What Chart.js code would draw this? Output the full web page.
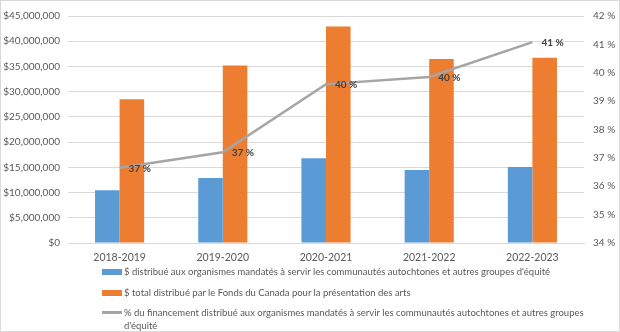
<!DOCTYPE html>
<html>
<head>
<meta charset="utf-8">
<script src="https://cdn.jsdelivr.net/npm/chart.js@4"></script>
<style>
  body { margin: 0; background: #fff; }
  #wrap { position: relative; width: 618px; height: 330px; border: 1px solid #d9d9d9; }
  #legende { position: absolute; left: 101px; top: 264px; font-family: Lato, sans-serif; font-size: 9.5px; color: #595959; }
  .item { display: flex; align-items: flex-start; margin-bottom: 7.5px; line-height: 13px; }
  .swatch { width: 20px; height: 6px; margin-top: 4px; margin-right: 2px; flex: none; }
  .swatch.ligne { height: 3px; margin-top: 5px; }
  .txt { width: 475px; }
</style>
</head>
<body>
<div id="wrap">
  <canvas id="graph" width="618" height="330"></canvas>
  <div id="legende"></div>
</div>
<script>
// données
let annees = ["2018-2019", "2019-2020", "2020-2021", "2021-2022", "2022-2023"]
let montant_equite = [10450000, 12900000, 16800000, 14450000, 15050000]
let montant_total = [28500000, 35200000, 42900000, 36500000, 36700000]
let pourcentage = [36.65, 37.2, 39.6, 39.85, 41.08]

let label_equite = "$ distribué aux organismes mandatés à servir les communautés autochtones et autres groupes d'équité"
let label_total = "$ total distribué par le Fonds du Canada pour la présentation des arts"
let label_pct = "% du financement distribué aux organismes mandatés à servir les communautés autochtones et autres groupes d'équité"

let gris_texte = "#595959"
let police = "Lato, sans-serif"

/** étiquettes du pourcentage à droite des points */
let etiquettes = {
  id: "etiquettes",
  afterDatasetsDraw: function(chart) {
    let ctx = chart.ctx
    let meta = chart.getDatasetMeta(2)
    ctx.save()
    ctx.fillStyle = "#404040"
    ctx.font = "bold 10px " + police
    ctx.textAlign = "left"
    ctx.textBaseline = "middle"
    meta.data.forEach(function(pt, i) {
      ctx.fillText(Math.round(pourcentage[i]) + " %", pt.x + 9, pt.y + 1)
    })
    ctx.restore()
  }
}

let ctx = document.getElementById("graph").getContext("2d")
let chart = new Chart(ctx, {
  type: "bar",
  data: {
    labels: annees,
    datasets: [{
      label: label_equite,
      data: montant_equite,
      backgroundColor: "#5b9bd5",
      yAxisID: "y",
      order: 1,
      categoryPercentage: 0.476,
      barPercentage: 1
    }, {
      label: label_total,
      data: montant_total,
      backgroundColor: "#ed7d31",
      yAxisID: "y",
      order: 1,
      categoryPercentage: 0.476,
      barPercentage: 1
    }, {
      type: "line",
      label: label_pct,
      data: pourcentage,
      borderColor: "#a5a5a5",
      borderWidth: 2.5,
      pointRadius: 0,
      tension: 0,
      yAxisID: "y1",
      order: 0
    }]
  },
  options: {
    responsive: false,
    animation: false,
    layout: { padding: { top: 9, left: 0, right: 0, bottom: 0 } },
    plugins: { legend: { display: false }, tooltip: { enabled: false } },
    scales: {
      x: {
        grid: { display: false, drawTicks: false },
        border: { color: "#d9d9d9" },
        ticks: { color: gris_texte, font: { family: police, size: 10.5 }, padding: 8 },
        afterFit: function(axis) { axis.height = 88 }
      },
      y: {
        position: "left",
        min: 0, max: 45000000,
        ticks: {
          stepSize: 5000000, color: gris_texte, padding: 8,
          font: { family: police, size: 10 },
          callback: function(v) { return "$" + v.toLocaleString("en-US") }
        },
        grid: { color: "#d9d9d9", drawTicks: false },
        border: { display: false },
        afterFit: function(axis) { axis.width = 67 }
      },
      y1: {
        position: "right",
        min: 34, max: 42,
        ticks: {
          stepSize: 1, color: gris_texte, padding: 9,
          font: { family: police, size: 10 },
          callback: function(v) { return v + " %" }
        },
        grid: { display: false, drawTicks: false },
        border: { display: false },
        afterFit: function(axis) { axis.width = 35 }
      }
    }
  },
  plugins: [etiquettes]
})

/** légende en bas, un élément par ligne */
let legende = document.getElementById("legende")
chart.data.datasets.forEach(function(ds) {
  let item = document.createElement("div")
  item.className = "item"
  let sw = document.createElement("span")
  sw.className = ds.type === "line" ? "swatch ligne" : "swatch"
  sw.style.background = ds.type === "line" ? ds.borderColor : ds.backgroundColor
  let txt = document.createElement("span")
  txt.className = "txt"
  txt.textContent = ds.label
  item.appendChild(sw)
  item.appendChild(txt)
  legende.appendChild(item)
})
</script>
</body>
</html>
